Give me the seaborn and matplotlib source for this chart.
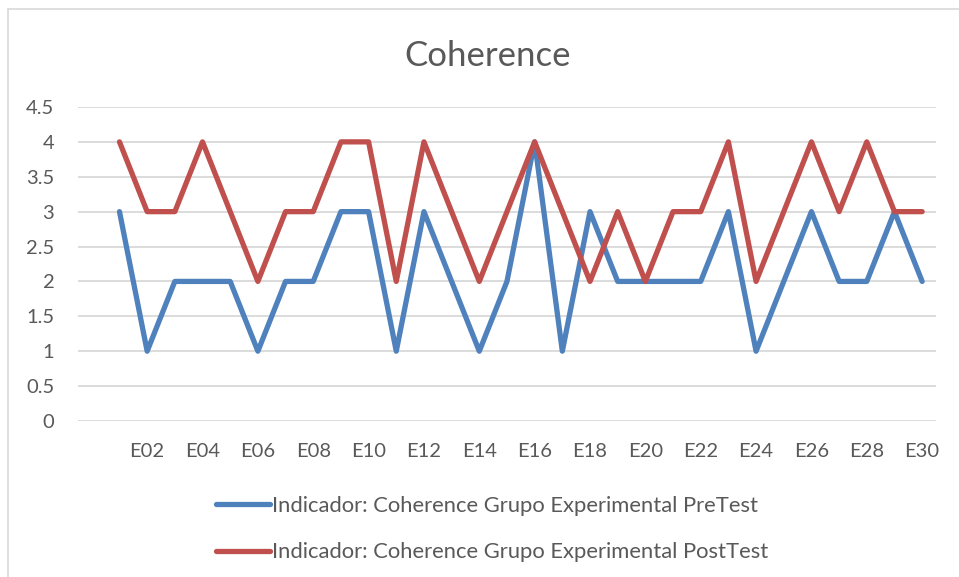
import numpy as np
import pandas as pd
import matplotlib
matplotlib.use("Agg")
import matplotlib.pyplot as plt
import seaborn as sns
from matplotlib.lines import Line2D

students = ["E%02d" % i for i in range(1, 31)]
pretest = [3, 1, 2, 2, 2, 1, 2, 2, 3, 3, 1, 3, 2, 1, 2, 4, 1, 3, 2, 2, 2, 2, 3, 1, 2, 3, 2, 2, 3, 2]
posttest = [4, 3, 3, 4, 3, 2, 3, 3, 4, 4, 2, 4, 3, 2, 3, 4, 3, 2, 3, 2, 3, 3, 4, 2, 3, 4, 3, 4, 3, 3]
series_names = ["Indicador: Coherence Grupo Experimental PreTest",
                "Indicador: Coherence Grupo Experimental PostTest"]
colors = ["#4F81BD", "#C0504D"]

df = pd.DataFrame({
    "Estudiante": students * 2,
    "Valor": pretest + posttest,
    "Serie": [series_names[0]] * len(students) + [series_names[1]] * len(students),
})

sns.set_style("white")
plt.rcParams["font.family"] = ["Lato", "DejaVu Sans"]
text_col = "#595959"

fig = plt.figure(figsize=(9.59, 5.77), dpi=100)
ax = fig.add_axes([0.0813, 0.2704, 0.8947, 0.5442])

sns.lineplot(data=df, x="Estudiante", y="Valor", hue="Serie", palette=colors,
             linewidth=3.8, ax=ax, legend=False, sort=False,
             solid_joinstyle="round", solid_capstyle="round")

ax.set_ylim(0, 4.5)
ax.set_yticks(np.arange(0, 4.51, 0.5))
ax.set_yticklabels(["0", "0.5", "1", "1.5", "2", "2.5", "3", "3.5", "4", "4.5"])
ax.set_xlim(-1.5, 29.5)
ax.set_xticks(range(1, 30, 2))
ax.set_xticklabels(students[1::2])
ax.yaxis.grid(True, color="#D9D9D9", linewidth=1.3)
ax.set_axisbelow(True)
for s in ax.spines.values():
    s.set_visible(False)
ax.tick_params(axis="both", length=0, labelsize=14.5, colors=text_col)
ax.tick_params(axis="y", pad=17)
ax.tick_params(axis="x", pad=16)
ax.set_xlabel("")
ax.set_ylabel("")

fig.text(0.508, 0.903, "Coherence", ha="center", va="center", fontsize=25, color=text_col)

handles = [Line2D([0], [0], color=c, lw=3.8, solid_capstyle="round") for c in colors]
fig.legend(handles, series_names, loc="center", bbox_to_anchor=(0.5136, 0.083),
           ncol=1, frameon=False, fontsize=15.8, labelcolor=text_col,
           handlelength=2.45, handletextpad=0.1, labelspacing=1.2)

# chart area border
fig.add_artist(Line2D([8 / 959, 8 / 959], [0, 1 - 9 / 577], color="#D9D9D9", lw=1.2))
fig.add_artist(Line2D([8 / 959, 1], [1 - 9 / 577, 1 - 9 / 577], color="#D9D9D9", lw=1.2))

fig.savefig("out.png", dpi=100, facecolor="white")
